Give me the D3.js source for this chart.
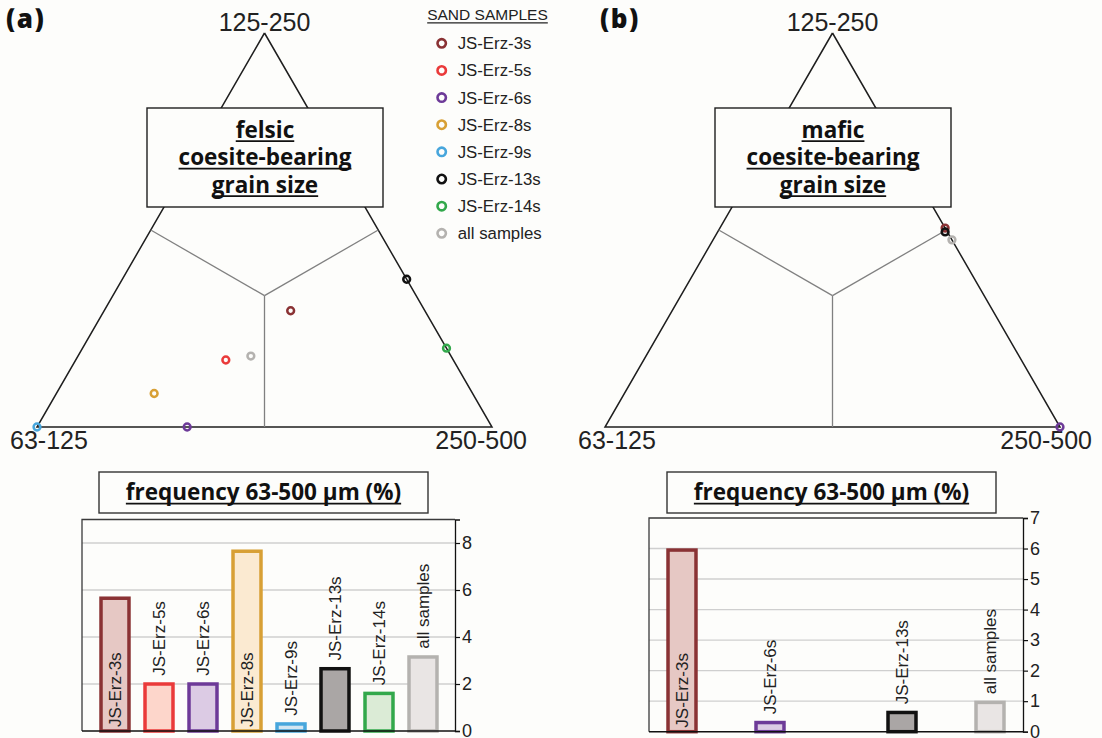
<!DOCTYPE html>
<html>
<head>
<meta charset="utf-8">
<script src="https://cdn.jsdelivr.net/npm/d3@7"></script>
<style>
  html, body { margin: 0; padding: 0; background: #fdfdfb; }
  svg { display: block; }
</style>
</head>
<body>
<svg id="fig" width="1102" height="738"></svg>
<script>
// ---- Data -------------------------------------------------------------
const samples = ["JS-Erz-3s", "JS-Erz-5s", "JS-Erz-6s", "JS-Erz-8s",
                 "JS-Erz-9s", "JS-Erz-13s", "JS-Erz-14s", "all samples"];

// Grain-size fractions (%) of coesite-bearing grains: 63-125 / 125-250 / 250-500 µm
const felsicFine   = [29.5, 50, 67, 70, 100, 0, 0, 44];
const felsicMedium = [29.5, 17, 0, 8.5, 0, 37.5, 20, 18];
const felsicCoarse = [41, 33, 33, 21.5, 0, 62.5, 80, 38];

const maficFine   = [0, null, 0, null, null, 0.5, null, 0];
const maficMedium = [50.5, null, 0, null, null, 49.5, null, 47.5];
const maficCoarse = [49.5, null, 100, null, null, 50, null, 52.5];

// Frequency of coesite-bearing grains in the 63-500 µm fraction (%)
const felsicFreq = [5.65, 2.0, 2.0, 7.65, 0.3, 2.65, 1.6, 3.15];
const maficFreq  = [5.95, null, 0.3, null, null, 0.63, null, 0.96];

const felsicTicks = [0, 2, 4, 6, 8];
const maficTicks  = [0, 1, 2, 3, 4, 5, 6, 7];

const vertexLabels = ["125-250", "63-125", "250-500"];
const legendTitle = "SAND SAMPLES";
const freqTitle = "frequency 63-500 µm (%)";

// ---- Styling ----------------------------------------------------------
const strokeColor = d3.scaleOrdinal().domain(samples)
  .range(["#8a3234", "#ea3a3a", "#6d3a98", "#d8a035", "#47a6dc", "#111111", "#32a84b", "#b4b2af"]);
const fillColor = d3.scaleOrdinal().domain(samples)
  .range(["#e6c8c4", "#fdd6cb", "#dccbe4", "#fbead1", "#d3e6f2", "#aaa6a5", "#dbebd6", "#e9e5e4"]);

const SANS = "'Liberation Sans', Arial, sans-serif";
const BOLD = "'Open Sans', 'DejaVu Sans', sans-serif";
const INK = "#222";

const svg = d3.select("#fig");

// Underlined bold text (centred)
function underlined(g, x, y, text, size) {
  const t = g.append("text").attr("x", x).attr("y", y)
    .attr("text-anchor", "middle").attr("font-family", BOLD)
    .attr("font-weight", 700).attr("font-size", size).attr("fill", "#111").text(text);
  const w = t.node().getComputedTextLength();
  g.append("line").attr("x1", x - w / 2).attr("x2", x + w / 2)
    .attr("y1", y + 3.6).attr("y2", y + 3.6)
    .attr("stroke", "#111").attr("stroke-width", 1.8);
}

// ---- Ternary diagram --------------------------------------------------
function ternary(opt) {
  const g = svg.append("g");
  const sx = d3.scaleLinear().domain([0, 1]).range([opt.left, opt.right]);
  const sy = d3.scaleLinear().domain([0, 1]).range([opt.base, opt.apex]);
  const proj = (f, m, c) => {
    const s = f + m + c;
    return [sx((c + m / 2) / s), sy(m / s)];
  };

  // outline
  const verts = [proj(0, 1, 0), proj(1, 0, 0), proj(0, 0, 1)];
  g.append("path").attr("d", d3.line()([...verts, verts[0]]))
    .attr("fill", "none").attr("stroke", "#1e1e1e").attr("stroke-width", 1.5)
    .attr("stroke-linejoin", "miter");

  // field boundaries from the centroid
  const ctr = proj(1, 1, 1);
  [[1, 1, 0], [0, 1, 1], [1, 0, 1]].forEach(m => {
    g.append("line").attr("x1", ctr[0]).attr("y1", ctr[1])
      .attr("x2", proj(...m)[0]).attr("y2", proj(...m)[1])
      .attr("stroke", "#808080").attr("stroke-width", 1.3);
  });

  // vertex labels
  g.append("text").attr("x", verts[0][0]).attr("y", verts[0][1] - 2)
    .attr("text-anchor", "middle").attr("font-family", SANS).attr("font-size", 25)
    .attr("fill", INK).text(vertexLabels[0]);
  g.append("text").attr("x", verts[1][0] - 27).attr("y", verts[1][1] + 22)
    .attr("text-anchor", "start").attr("font-family", SANS).attr("font-size", 25)
    .attr("fill", INK).text(vertexLabels[1]);
  g.append("text").attr("x", verts[2][0] + opt.rightPad).attr("y", verts[2][1] + 22)
    .attr("text-anchor", "end").attr("font-family", SANS).attr("font-size", 25)
    .attr("fill", INK).text(vertexLabels[2]);

  // title box
  const bx = opt.box;
  g.append("rect").attr("x", bx.x).attr("y", bx.y).attr("width", bx.w).attr("height", bx.h)
    .attr("fill", "#fdfdfb").attr("stroke", "#1e1e1e").attr("stroke-width", 1.4);
  const cx = bx.x + bx.w / 2;
  opt.title.forEach((line, i) => underlined(g, cx, bx.y + 29.5 + i * 27.5, line, 22.5));

  // samples
  const pts = samples.map((s, i) => ({ s, f: opt.fine[i], m: opt.med[i], c: opt.coarse[i] }))
    .filter(d => d.f !== null);
  g.selectAll("circle.pt").data(pts).join("circle").attr("class", "pt")
    .attr("cx", d => proj(d.f, d.m, d.c)[0]).attr("cy", d => proj(d.f, d.m, d.c)[1])
    .attr("r", 3.4).attr("fill", "none")
    .attr("stroke", d => strokeColor(d.s)).attr("stroke-width", 2.5);
}

ternary({
  left: 37, right: 492, base: 427, apex: 33, rightPad: 35,
  box: { x: 147, y: 108, w: 236, h: 99 },
  title: ["felsic", "coesite-bearing", "grain size"],
  fine: felsicFine, med: felsicMedium, coarse: felsicCoarse
});
ternary({
  left: 605, right: 1060, base: 427, apex: 33, rightPad: 32,
  box: { x: 715, y: 108, w: 236, h: 99 },
  title: ["mafic", "coesite-bearing", "grain size"],
  fine: maficFine, med: maficMedium, coarse: maficCoarse
});

// panel letters
svg.append("text").attr("x", 6).attr("y", 28).attr("font-family", BOLD).attr("font-weight", 800)
  .attr("font-size", 26).attr("letter-spacing", 1.5).attr("fill", "#111").text("(a)");
svg.append("text").attr("x", 600).attr("y", 28).attr("font-family", BOLD).attr("font-weight", 800)
  .attr("font-size", 26).attr("letter-spacing", 1.5).attr("fill", "#111").text("(b)");

// ---- Legend -----------------------------------------------------------
const leg = svg.append("g");
{
  const t = leg.append("text").attr("x", 487.5).attr("y", 20).attr("text-anchor", "middle")
    .attr("font-family", SANS).attr("font-size", 15.5).attr("fill", INK).text(legendTitle);
  const w = t.node().getComputedTextLength();
  leg.append("line").attr("x1", 487.5 - w / 2).attr("x2", 487.5 + w / 2)
    .attr("y1", 22.8).attr("y2", 22.8).attr("stroke", INK).attr("stroke-width", 1.2);
}
const ly = d3.scalePoint().domain(samples).range([43.3, 233.3]);
const items = leg.selectAll("g.item").data(samples).join("g").attr("class", "item")
  .attr("transform", d => `translate(441.7,${ly(d)})`);
items.append("circle").attr("r", 4.2).attr("fill", "none")
  .attr("stroke", d => strokeColor(d)).attr("stroke-width", 2.6);
items.append("text").attr("x", 16).attr("y", 6).attr("font-family", SANS)
  .attr("font-size", 16.8).attr("fill", INK).text(d => d);

// ---- Frequency bar charts --------------------------------------------
function bars(opt) {
  const g = svg.append("g");
  const x = d3.scaleBand().domain(samples).range([opt.x0 + 11, opt.x0 + 363])
    .paddingInner(0.364).paddingOuter(0.182);
  const y = d3.scaleLinear().domain([0, opt.max]).range([opt.bottom, opt.top]);

  // title box
  const tb = opt.titleBox;
  g.append("rect").attr("x", tb.x).attr("y", 472).attr("width", tb.w).attr("height", 41)
    .attr("fill", "#fdfdfb").attr("stroke", "#333").attr("stroke-width", 1.4);
  underlined(g, tb.x + tb.w / 2, 500, freqTitle, 22.5);

  // gridlines
  g.selectAll("line.grid").data(opt.ticks.filter(t => t > 0 && t < opt.max))
    .join("line").attr("class", "grid")
    .attr("x1", opt.x0).attr("x2", opt.x1)
    .attr("y1", d => y(d)).attr("y2", d => y(d))
    .attr("stroke", "#cfcfcf").attr("stroke-width", 1.4);

  // frame (left and top)
  g.append("path").attr("d", d3.line()([[opt.x0, y(0)], [opt.x0, y(opt.max)], [opt.x1, y(opt.max)]]))
    .attr("fill", "none").attr("stroke", "#3a3a3a").attr("stroke-width", 1.3);

  // bars
  const data = samples.map((s, i) => ({ s, v: opt.values[i] })).filter(d => d.v !== null);
  const sw = 3.5;
  g.selectAll("rect.bar").data(data).join("rect").attr("class", "bar")
    .attr("x", d => x(d.s)).attr("width", x.bandwidth())
    .attr("y", d => y(d.v)).attr("height", d => y(0) - y(d.v))
    .attr("fill", d => fillColor(d.s)).attr("stroke", d => strokeColor(d.s))
    .attr("stroke-width", sw);

  // rotated sample labels: inside tall bars, above the others
  g.selectAll("text.lab").data(data).join("text").attr("class", "lab")
    .attr("transform", d => {
      const cx = x(d.s) + x.bandwidth() / 2 + 6;
      const yy = d.v > 5 ? y(0) - 4 : y(d.v) - sw / 2 - 6.5;
      return `translate(${cx},${yy}) rotate(-90)`;
    })
    .attr("font-family", SANS).attr("font-size", 17).attr("fill", INK).text(d => d.s);

  // baseline
  g.append("line").attr("x1", opt.x0).attr("x2", opt.x1).attr("y1", y(0)).attr("y2", y(0))
    .attr("stroke", "#111").attr("stroke-width", 1.4);

  // right-hand axis
  const ax = g.append("g").attr("transform", `translate(${opt.x1},0)`)
    .call(d3.axisRight(y).tickValues(opt.ticks).tickFormat(d3.format("d")).tickSize(5).tickPadding(2));
  ax.select(".domain").attr("stroke", "#111").attr("stroke-width", 1.3);
  ax.selectAll(".tick line").attr("stroke", "#111").attr("stroke-width", 1.2);
  ax.selectAll(".tick text").attr("font-family", SANS).attr("font-size", 18).attr("fill", INK);
}

bars({ x0: 82, x1: 455, top: 519.5, bottom: 731, max: 9, ticks: felsicTicks,
       values: felsicFreq, titleBox: { x: 99, w: 329 } });
bars({ x0: 649, x1: 1023, top: 518, bottom: 731.7, max: 7, ticks: maficTicks,
       values: maficFreq, titleBox: { x: 667, w: 329 } });
</script>
</body>
</html>
